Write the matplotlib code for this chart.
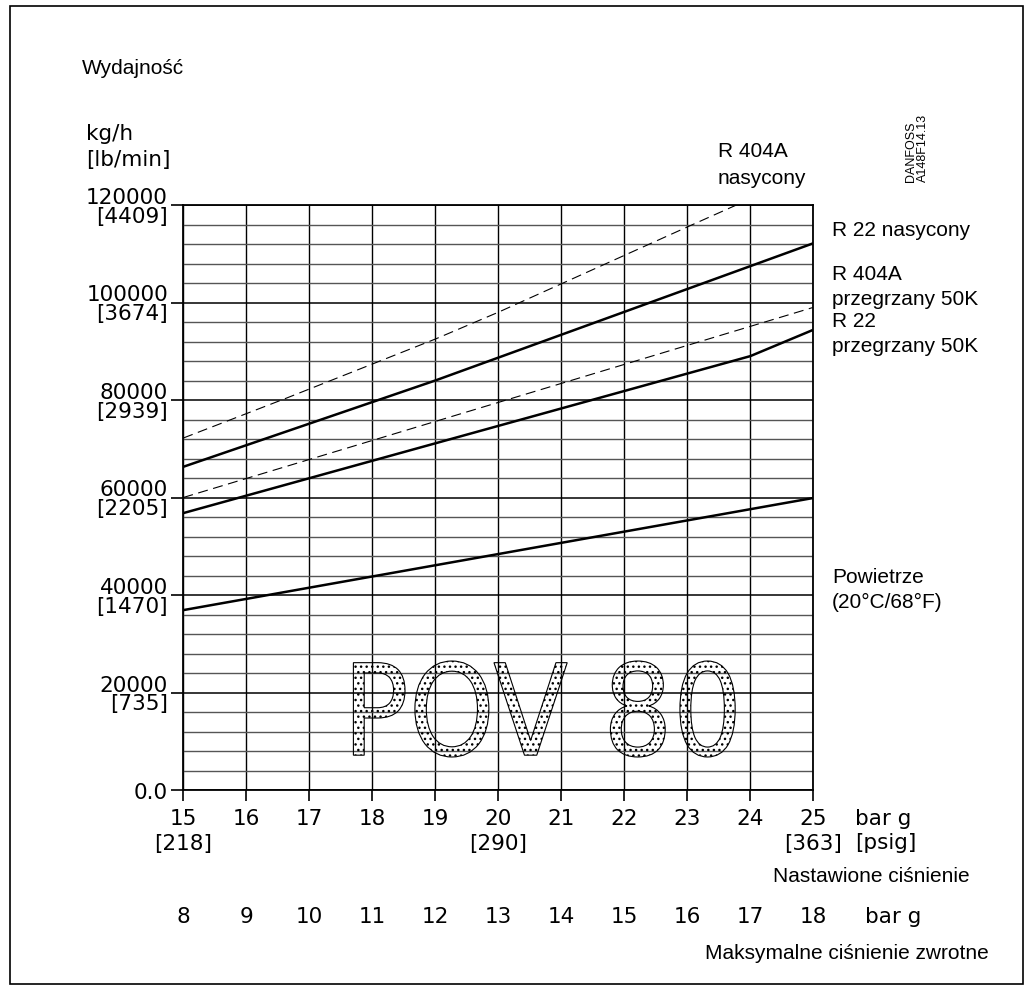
import matplotlib.pyplot as plt
import matplotlib.transforms as mtransforms
from matplotlib.patches import PathPatch, Rectangle
from matplotlib.textpath import TextPath
from matplotlib.font_manager import FontProperties

# dane
cisnienie = [15, 16, 17, 18, 19, 20, 21, 22, 23, 24, 25]
cisnienie_psig = {15: '[218]', 20: '[290]', 25: '[363]'}
cisnienie_zwrotne = [8, 9, 10, 11, 12, 13, 14, 15, 16, 17, 18]
y_ticks = [0, 20000, 40000, 60000, 80000, 100000, 120000]
y_labels = ['0.0', '20000\n[735]', '40000\n[1470]', '60000\n[2205]',
            '80000\n[2939]', '100000\n[3674]', '120000\n[4409]']

r404a_nas_x = [15, 16.64, 19, 20, 23.07, 23.78]
r404a_nas_y = [72200, 80400, 92500, 98000, 115900, 120000]
r22_nas_x = [15, 19, 25]
r22_nas_y = [66300, 84000, 112150]
r404a_prz_x = [15, 25]
r404a_prz_y = [60000, 99000]
r22_prz_x = [15, 24, 25]
r22_prz_y = [56800, 89000, 94400]
powietrze_x = [15, 25]
powietrze_y = [36900, 59900]

W, H = 1026, 987
fig = plt.figure(figsize=(W / 100, H / 100), dpi=100)
ax = fig.add_axes([183.3 / W, 1 - 791 / H, 630 / W, 585 / H])

def px(x, y):
    return x / W, 1 - y / H

# siatka
for x in cisnienie:
    ax.axvline(x, color='black', lw=1.0, zorder=1)
for y in range(0, 120001, 4000):
    if y % 20000 == 0:
        ax.axhline(y, color='black', lw=1.1, zorder=1)
    else:
        ax.axhline(y, color='#555555', lw=1.0, zorder=1)

# napis POV 80
tp = TextPath((0, 0), 'POV 80', size=1, prop=FontProperties(family='DejaVu Sans'))
ext = tp.get_extents()
x0, x1, y0, y1 = 17.7, 23.76, 6770, 26460
tr = mtransforms.Affine2D().translate(-ext.x0, -ext.y0).scale(
    (x1 - x0) / ext.width, (y1 - y0) / ext.height).translate(x0, y0)
tp = tr.transform_path(tp)
ax.add_patch(PathPatch(tp, facecolor='none', edgecolor='black', hatch='...', lw=0.8, zorder=1.5))

ax.plot(r404a_nas_x, r404a_nas_y, color='black', lw=0.8, ls=(0, (9, 5)), zorder=3)
ax.plot(r22_nas_x, r22_nas_y, color='black', lw=1.8, zorder=3)
ax.plot(r404a_prz_x, r404a_prz_y, color='black', lw=0.8, ls=(0, (9, 5)), zorder=3)
ax.plot(r22_prz_x, r22_prz_y, color='black', lw=1.8, zorder=3)
ax.plot(powietrze_x, powietrze_y, color='black', lw=1.8, zorder=3)

ax.set_xlim(15, 25)
ax.set_ylim(0, 120000)
for s in ax.spines.values():
    s.set_linewidth(1.3)

ax.set_xticks(cisnienie, [str(x) + ('\n' + cisnienie_psig[x] if x in cisnienie_psig else '') for x in cisnienie])
ax.set_yticks(y_ticks, y_labels)
ax.tick_params(axis='x', length=8, width=1.2, pad=5, labelsize=15.5)
ax.tick_params(axis='y', length=9, width=1.2, pad=2, labelsize=15.5)
for lab in ax.get_yticklabels():
    lab.set_linespacing(0.92)
    lab.set_multialignment('right')
for lab in ax.get_xticklabels():
    lab.set_linespacing(1.3)

# druga skala ciśnienia
trans = mtransforms.blended_transform_factory(ax.transData, fig.transFigure)
for xb, xz in zip(cisnienie, cisnienie_zwrotne):
    ax.text(xb, 1 - 917 / H, str(xz), transform=trans, ha='center', va='center', fontsize=15.5)

fig.text(*px(855, 819), 'bar g', ha='left', va='center', fontsize=15.5)
fig.text(*px(855, 843), '[psig]', ha='left', va='center', fontsize=15.5)
fig.text(*px(865, 917), 'bar g', ha='left', va='center', fontsize=15.5)

arial = 'Liberation Sans'
fig.text(*px(773, 877), 'Nastawione ciśnienie', family=arial, ha='left', va='center', fontsize=15)
fig.text(*px(705, 954), 'Maksymalne ciśnienie zwrotne', family=arial, ha='left', va='center', fontsize=15)
fig.text(*px(82, 69), 'Wydajność', family=arial, ha='left', va='center', fontsize=15)
fig.text(*px(86, 147), 'kg/h\n[lb/min]', ha='left', va='center', fontsize=15.5, linespacing=1.42)

fig.text(*px(718, 165), 'R 404A\nnasycony', family=arial, ha='left', va='center', fontsize=15, linespacing=1.5)
fig.text(*px(832, 230), 'R 22 nasycony', family=arial, ha='left', va='center', fontsize=15)
fig.text(*px(832, 287), 'R 404A\nprzegrzany 50K', family=arial, ha='left', va='center', fontsize=15, linespacing=1.38)
fig.text(*px(832, 334), 'R 22\nprzegrzany 50K', family=arial, ha='left', va='center', fontsize=15, linespacing=1.38)
fig.text(*px(832, 590), 'Powietrze\n(20°C/68°F)', family=arial, ha='left', va='center', fontsize=15, linespacing=1.45)
fig.text(*px(905, 182), 'DANFOSS\nA148F14.13', family=arial, ha='left', va='bottom', rotation=90,
         fontsize=9, linespacing=1.0)

fig.add_artist(Rectangle((9.5 / W, 2 / H), 1013 / W, 978 / H, transform=fig.transFigure,
                         fill=False, edgecolor='black', lw=1.2))

plt.savefig('out.png', dpi=100)
